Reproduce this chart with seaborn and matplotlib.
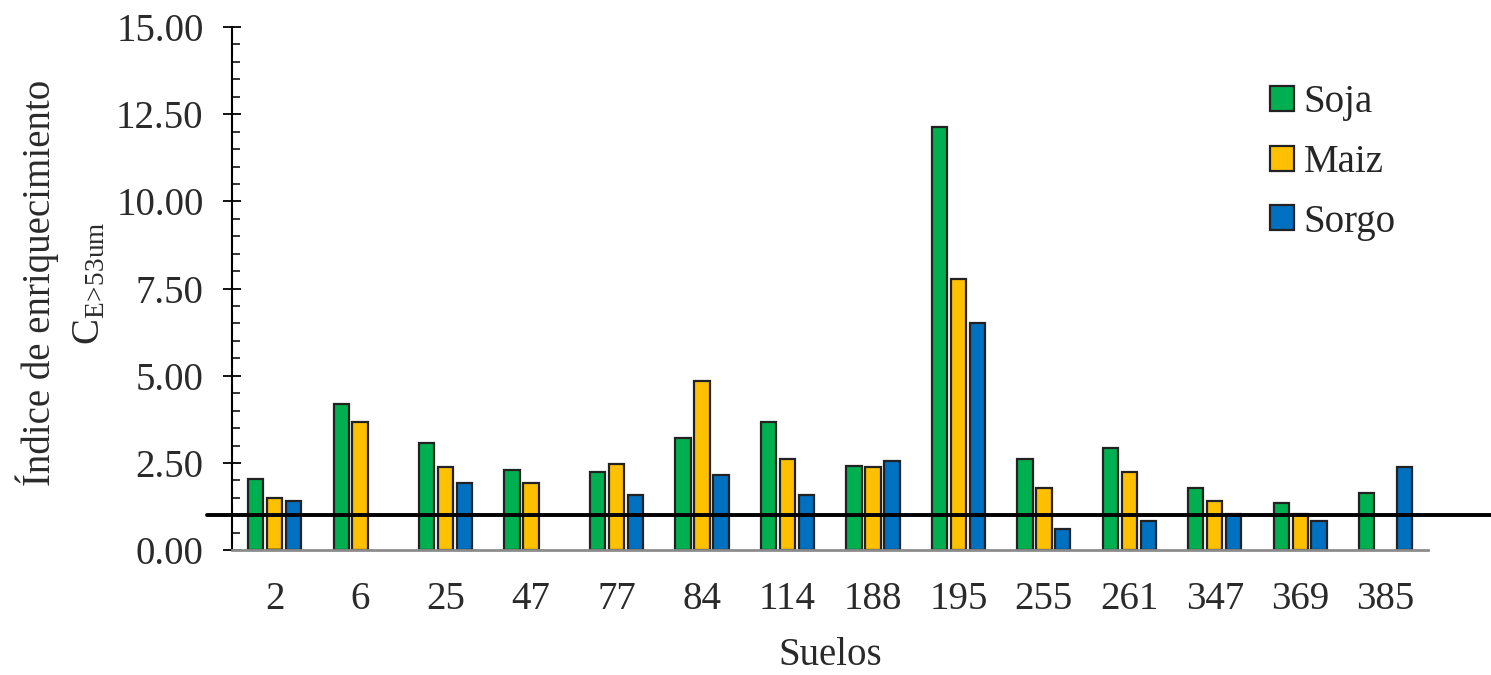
import numpy as np
import pandas as pd
import seaborn as sns
from matplotlib import pyplot as plt
from matplotlib.ticker import MultipleLocator, FormatStrFormatter

####### Data #######

suelos = ['2', '6', '25', '47', '77', '84', '114', '188', '195', '255', '261', '347', '369', '385']
soja = [2.03, 4.19, 3.07, 2.31, 2.24, 3.22, 3.67, 2.40, 12.12, 2.61, 2.92, 1.79, 1.35, 1.65]
maiz = [1.49, 3.67, 2.38, 1.93, 2.46, 4.86, 2.61, 2.38, 7.78, 1.79, 2.25, 1.41, 1.05, np.nan]
sorgo = [1.41, np.nan, 1.93, np.nan, 1.57, 2.16, 1.57, 2.55, 6.50, 0.62, 0.83, 1.05, 0.83, 2.38]
cultivos = ['Soja', 'Maiz', 'Sorgo']
colores = ['#00B050', '#FFC000', '#0070C0']
umbral = 1.0

df = pd.DataFrame({
    'suelo': suelos * 3,
    'cultivo': np.repeat(cultivos, len(suelos)),
    'valor': soja + maiz + sorgo,
})

####### Style #######

sns.set_style('ticks')
plt.rcParams['font.family'] = 'serif'
plt.rcParams['font.serif'] = ['Liberation Serif', 'DejaVu Serif']
plt.rcParams['mathtext.fontset'] = 'custom'
plt.rcParams['mathtext.rm'] = 'Liberation Serif'
plt.rcParams['mathtext.default'] = 'rm'

fig = plt.figure(figsize=(14.91, 6.75), dpi=100)
ax = fig.add_axes([0.1556, 0.185, 0.8024, 0.775])

sns.barplot(data=df, x='suelo', y='valor', hue='cultivo', order=suelos,
            hue_order=cultivos, palette=colores, width=0.666, errorbar=None,
            edgecolor='#222222', linewidth=1.6, saturation=1, ax=ax)

# leave a small gap between neighbouring bars
bar_w = 0.18
for p in ax.patches:
    w = p.get_width()
    p.set_x(p.get_x() + (w - bar_w) / 2)
    p.set_width(bar_w)

ax.axhline(umbral, xmin=-0.021, xmax=1.06, color='black', lw=2.8, clip_on=False, zorder=5)

ax.set_xlim(-0.5, 13.5)
ax.set_ylim(0, 15)
ax.yaxis.set_major_locator(MultipleLocator(2.5))
ax.yaxis.set_minor_locator(MultipleLocator(0.5))
ax.yaxis.set_major_formatter(FormatStrFormatter('%.2f'))

ax.tick_params(axis='y', which='major', direction='inout', length=13, width=1.3,
               labelsize=28, pad=14, colors='black', labelcolor='#2a2a2a')
ax.tick_params(axis='y', which='minor', direction='in', length=6, width=1.3, left=True)
ax.tick_params(axis='x', length=0, labelsize=28, pad=22, labelcolor='#2a2a2a')

sns.despine(ax=ax)
ax.spines['left'].set_color('black')
ax.spines['left'].set_linewidth(1.5)
ax.spines['bottom'].set_color('#8c8c8c')
ax.spines['bottom'].set_linewidth(2)

ax.set_xlabel('Suelos', fontsize=28, color='#2a2a2a', labelpad=14)
ax.set_ylabel('Índice de enriquecimiento\nC$_{E\\!>\\!53um}$', fontsize=28,
              color='#2a2a2a', linespacing=1.45)
ax.yaxis.set_label_coords(-0.103, 0.51)

handles, labels = ax.get_legend_handles_labels()
ax.legend(handles, labels, loc='upper left', bbox_to_anchor=(0.855, 0.92),
          frameon=False, fontsize=28, handlelength=0.6, handleheight=0.6,
          handletextpad=0.25, labelspacing=0.58, borderaxespad=0)

plt.savefig('out.png', dpi=100)
